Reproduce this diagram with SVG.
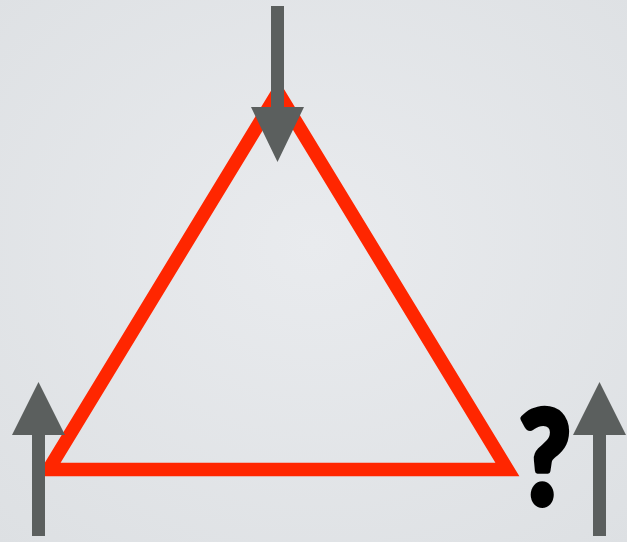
<svg xmlns="http://www.w3.org/2000/svg" width="627" height="542" viewBox="0 0 627 542">
  <defs>
    <radialGradient id="bg" cx="50%" cy="45%" r="75%">
      <stop offset="0" stop-color="#e9ebee"/>
      <stop offset="1" stop-color="#dde0e3"/>
    </radialGradient>
    <style>
      .tri { fill: none; stroke: #ff2600; stroke-width: 13.5; stroke-linejoin: miter; stroke-miterlimit: 10; }
      .arrow { fill: #5b5f5e; stroke: none; }
      .q { font-family: Lato, "DejaVu Sans", sans-serif; font-weight: 900; font-size: 130px; fill: #000000; stroke: #000000; stroke-width: 6; stroke-linejoin: round; text-anchor: middle; }
    </style>
  </defs>
  <rect x="0" y="0" width="627" height="542" fill="url(#bg)"/>
  <g id="triangle">
    <polygon class="tri" points="278,92.2 48.6,469.5 507.4,469.5"/>
  </g>
  <g id="connectors">
    <path id="arrow-top" class="arrow" d="M271,6 H284 V107 H304 L277.5,162 L251,107 H271 Z"/>
    <path id="arrow-left" class="arrow" d="M32,536 H45 V435 H65 L38.5,382 L12,435 H32 Z"/>
    <path id="arrow-right" class="arrow" d="M593,536 H606 V435 H626 L599.5,382 L573,435 H593 Z"/>
  </g>
  <g id="question">
    <text class="q" transform="translate(545,504) scale(0.85,1)" x="0" y="0">?</text>
  </g>
</svg>
